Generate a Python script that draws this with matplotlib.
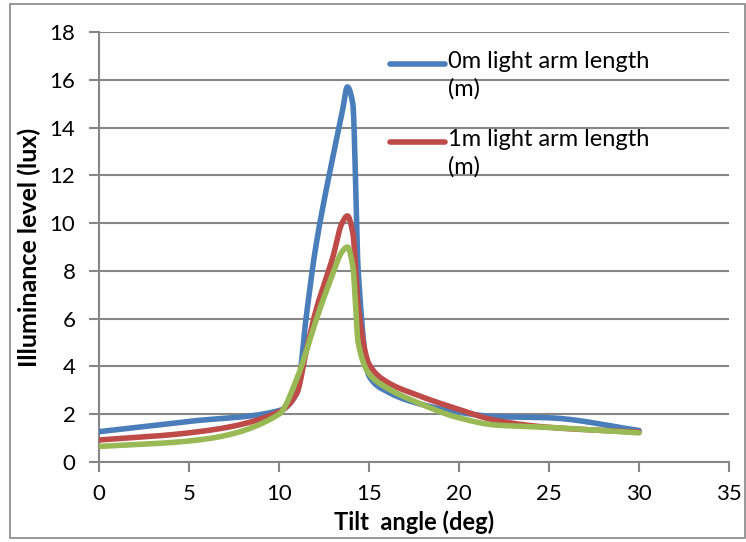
import numpy as np
import matplotlib.pyplot as plt
from matplotlib.lines import Line2D
from matplotlib.patches import Rectangle

# tilt angle (deg) and illuminance (lux)
angles = [0, 5, 10, 11, 11.5, 12, 13, 13.5, 13.8, 14.1, 14.4, 15, 16, 17.5, 20, 22, 25, 30]
arm_0m = [1.27, 1.7, 2.15, 2.9, 6.0, 8.8, 12.8, 14.6, 15.7, 15.0, 8.0, 3.6, 2.95, 2.5, 2.08, 1.9, 1.85, 1.32]
arm_1m = [0.92, 1.22, 2.1, 2.9, 4.6, 6.2, 8.6, 10.0, 10.3, 9.6, 6.5, 4.1, 3.35, 2.85, 2.2, 1.75, 1.45, 1.25]
arm_2m = [0.65, 0.88, 2.0, 3.5, 4.6, 5.8, 7.9, 8.8, 9.0, 8.2, 5.0, 3.7, 3.1, 2.55, 1.85, 1.55, 1.45, 1.22]

legend_labels = ['0m light arm length\n(m)', '1m light arm length\n(m)']
colors = ['#4A7EBB', '#BE4B48', '#98B954']


def smooth(x, y, n=40):
    # smoothed line through the points (monotone cubic, flat at the peaks)
    x = np.asarray(x, float)
    y = np.asarray(y, float)
    h = np.diff(x)
    dl = np.diff(y) / h
    d = np.zeros_like(y)
    d[0], d[-1] = dl[0], dl[-1]
    for k in range(1, len(x) - 1):
        if dl[k-1] * dl[k] > 0:
            w1 = 2*h[k] + h[k-1]
            w2 = h[k] + 2*h[k-1]
            d[k] = (w1 + w2) / (w1/dl[k-1] + w2/dl[k])
    px, py = [], []
    for i in range(len(x) - 1):
        t = np.linspace(0, 1, n)
        h00 = 2*t**3 - 3*t**2 + 1
        h10 = t**3 - 2*t**2 + t
        h01 = -2*t**3 + 3*t**2
        h11 = t**3 - t**2
        px.append(x[i] + t*h[i])
        py.append(h00*y[i] + h10*h[i]*d[i] + h01*y[i+1] + h11*h[i]*d[i+1])
    return np.concatenate(px), np.concatenate(py)


plt.rcParams['font.family'] = ['Lato', 'DejaVu Sans']

fig = plt.figure(figsize=(7.46, 5.42), dpi=100)
ax = fig.add_axes([99/746, 1-462/542, 630/746, 430/542])

for ys, c in zip([arm_0m, arm_1m, arm_2m], colors):
    sx, sy = smooth(angles, ys)
    ax.plot(sx, sy, color=c, lw=4, solid_capstyle='round', solid_joinstyle='round', zorder=3)

ax.set_xlim(0, 35)
ax.set_ylim(0, 18)
ax.set_xticks(range(0, 36, 5))
ax.set_yticks(range(0, 19, 2))
ax.grid(axis='y', color='#868686', lw=1.5)
ax.set_axisbelow(True)
for s in ['top', 'right']:
    ax.spines[s].set_visible(False)
for s in ['left', 'bottom']:
    ax.spines[s].set_color('#868686')
    ax.spines[s].set_linewidth(1.5)
ax.tick_params(colors='#868686', labelcolor='black', labelsize=16,
               length=7, width=1.5, direction='out')
ax.tick_params(axis='y', pad=10)
ax.tick_params(axis='x', pad=9)
ax.set_xlabel('Tilt  angle (deg)', fontsize=17, fontweight='bold', va='center')
ax.xaxis.set_label_coords(0.5, (462 - 522) / 430)
ax.set_ylabel('Illuminance level (lux)', fontsize=18, fontweight='bold',
              va='center', ha='center')
ax.yaxis.set_label_coords((29 - 99) / 630, 0.5)

# legend drawn by hand, handle sits on the first text line
for k, (lab, c) in enumerate(zip(legend_labels, colors)):
    ly = 64 + 77.5*k
    fig.add_artist(Line2D([390/746, 445/746], [1 - ly/542, 1 - ly/542], color=c, lw=4,
                          solid_capstyle='round'))
    fig.text(448/746, 1 - (ly - 13)/542, lab, fontsize=17, va='top', ha='left',
             linespacing=1.35)

fig.add_artist(Rectangle((10/746, 4/542), 735/746, 534/542, transform=fig.transFigure,
                         fill=False, ec='#868686', lw=1.2))

fig.savefig('out.png', dpi=100)
